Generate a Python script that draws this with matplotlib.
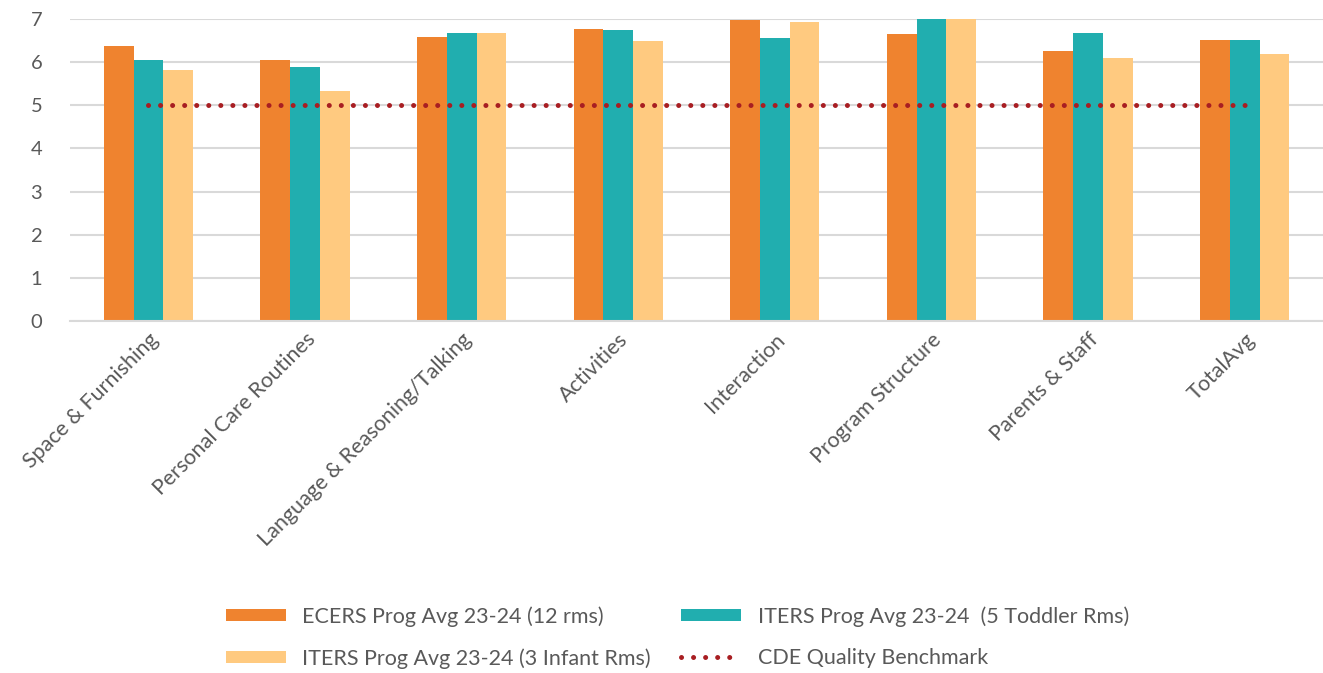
import numpy as np
import matplotlib.pyplot as plt

plt.rcParams['font.family'] = ['Lato', 'DejaVu Sans']

categories = ["Space & Furnishing", "Personal Care Routines", "Language & Reasoning/Talking",
              "Activities", "Interaction", "Program Structure", "Parents & Staff", "TotalAvg"]
ecers = [6.36, 6.05, 6.57, 6.76, 6.98, 6.65, 6.25, 6.50]
iters_toddler = [6.04, 5.88, 6.67, 6.74, 6.55, 7.00, 6.67, 6.50]
iters_infant = [5.81, 5.33, 6.68, 6.48, 6.92, 7.00, 6.09, 6.19]
benchmark = [5, 5, 5, 5, 5, 5, 5, 5]

c_orange = '#EF832F'
c_teal = '#21AEAF'
c_light = '#FFCA80'
c_red = '#A81E22'
txt = '#595959'

fig = plt.figure(figsize=(13.23, 6.73), dpi=100)
ax = fig.add_axes([0.053, 0.523, 0.947, 0.449])

x = np.arange(len(categories))
w = 0.19
b1 = ax.bar(x - w, ecers, w, color=c_orange, label='ECERS Prog Avg 23-24 (12 rms)', zorder=2)
b2 = ax.bar(x, iters_toddler, w, color=c_teal, label='ITERS Prog Avg 23-24  (5 Toddler Rms)', zorder=2)
b3 = ax.bar(x + w, iters_infant, w, color=c_light, label='ITERS Prog Avg 23-24 (3 Infant Rms)', zorder=2)
ln, = ax.plot(x, benchmark, color=c_red, lw=3.6, linestyle=(0, (0.01, 2.4)),
              dash_capstyle='round', label='CDE Quality Benchmark', zorder=3)

ax.set_xlim(-0.5, len(categories) - 0.5)
ax.set_ylim(0, 7)
ax.set_yticks(range(0, 8))
ax.yaxis.grid(True, color='#D9D9D9', lw=1.5, zorder=0)
ax.set_axisbelow(True)
for s in ['top', 'right', 'left']:
    ax.spines[s].set_visible(False)
ax.spines['bottom'].set_color('#D9D9D9')
ax.spines['bottom'].set_linewidth(1.5)
ax.tick_params(axis='both', length=0, colors=txt, labelsize=14.5)
ax.tick_params(axis='y', pad=20)
ax.tick_params(axis='x', pad=6)
ax.set_xticks(x)
ax.set_xticklabels(categories, rotation=45, ha='right', rotation_mode='anchor', fontsize=15.5)

fig.legend([b1, b3, b2, ln],
           [b1.get_label(), b3.get_label(), b2.get_label(), ln.get_label()],
           ncol=2, loc='center', bbox_to_anchor=(0.512, 0.053), frameon=False,
           fontsize=15.5, labelcolor=txt, handlelength=2.8, handleheight=0.45,
           columnspacing=1.4, labelspacing=1.0, handletextpad=0.75)

fig.savefig('out.png', dpi=100)
